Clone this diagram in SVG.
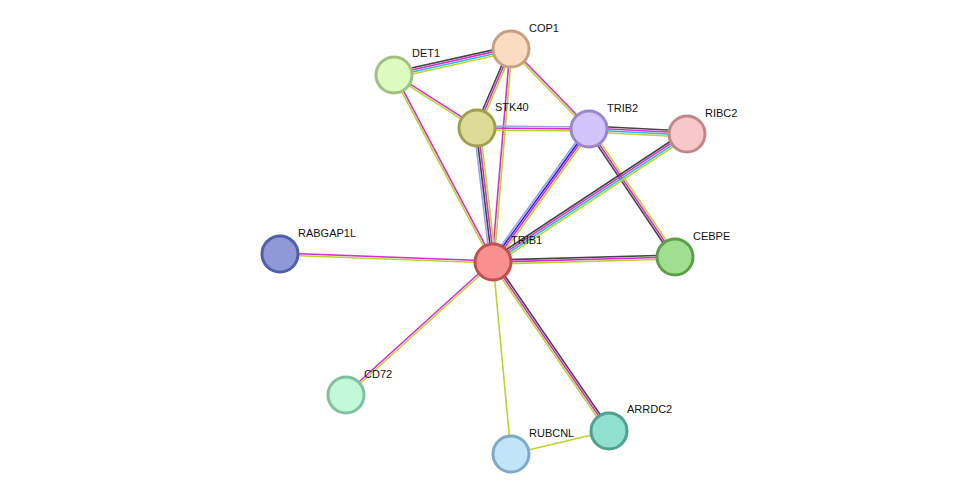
<svg xmlns="http://www.w3.org/2000/svg" width="975" height="500" viewBox="0 0 975 500">
<style>
line{stroke-width:1.6;fill:none}
.k{stroke:#444}.m{stroke:#d62bd6}.c{stroke:#2bb8d8}.y{stroke:#b8d62b}.lb{stroke:#9aa0f0}.b{stroke:#2222e0}
circle{stroke-width:3}
text{font-family:"Liberation Sans",Arial,sans-serif;font-size:11px;fill:#111}
</style>
<rect width="975" height="500" fill="#fff"/>
<g id="edges">
<g><line class="k" x1="394" y1="75" x2="511" y2="49" transform="translate(-0.65,-2.93)"/><line class="m" x1="394" y1="75" x2="511" y2="49" transform="translate(-0.22,-0.98)"/><line class="c" x1="394" y1="75" x2="511" y2="49" transform="translate(0.22,0.98)"/><line class="y" x1="394" y1="75" x2="511" y2="49" transform="translate(0.65,2.93)"/></g>
<g><line class="m" x1="394" y1="75" x2="477" y2="128" transform="translate(0.54,-0.84)"/><line class="y" x1="394" y1="75" x2="477" y2="128" transform="translate(-0.54,0.84)"/></g>
<g><line class="m" x1="394" y1="75" x2="493" y2="262" transform="translate(0.88,-0.47)"/><line class="y" x1="394" y1="75" x2="493" y2="262" transform="translate(-0.88,0.47)"/></g>
<g><line class="k" x1="511" y1="49" x2="477" y2="128" transform="translate(-1.84,-0.79)"/><line class="m" x1="511" y1="49" x2="477" y2="128"/><line class="y" x1="511" y1="49" x2="477" y2="128" transform="translate(1.84,0.79)"/></g>
<g><line class="m" x1="511" y1="49" x2="493" y2="262" transform="translate(-1,-0.08)"/><line class="y" x1="511" y1="49" x2="493" y2="262" transform="translate(1,0.08)"/></g>
<g><line class="m" x1="511" y1="49" x2="589" y2="129" transform="translate(0.72,-0.7)"/><line class="y" x1="511" y1="49" x2="589" y2="129" transform="translate(-0.72,0.7)"/></g>
<g><line class="lb" x1="477" y1="126" x2="589" y2="127"/><line class="m" x1="477" y1="128" x2="589" y2="129"/><line class="y" x1="477" y1="130" x2="589" y2="131"/></g>
<g><line class="lb" x1="477" y1="128" x2="493" y2="262" transform="translate(-2.98,0.36)"/><line class="k" x1="477" y1="128" x2="493" y2="262" transform="translate(-0.99,0.12)"/><line class="m" x1="477" y1="128" x2="493" y2="262" transform="translate(0.99,-0.12)"/><line class="y" x1="477" y1="128" x2="493" y2="262" transform="translate(2.98,-0.36)"/></g>
<g><line class="k" x1="589" y1="129" x2="687" y2="134" transform="translate(0.15,-3)"/><line class="m" x1="589" y1="129" x2="687" y2="134" transform="translate(0.05,-1)"/><line class="c" x1="589" y1="129" x2="687" y2="134" transform="translate(-0.05,1)"/><line class="y" x1="589" y1="129" x2="687" y2="134" transform="translate(-0.15,3)"/></g>
<g><line class="lb" x1="589" y1="129" x2="493" y2="262" transform="translate(-2.43,-1.76)"/><line class="b" x1="589" y1="129" x2="493" y2="262" transform="translate(-0.81,-0.59)"/><line class="m" x1="589" y1="129" x2="493" y2="262" transform="translate(0.81,0.59)"/><line class="y" x1="589" y1="129" x2="493" y2="262" transform="translate(2.43,1.76)"/></g>
<g><line class="k" x1="589" y1="129" x2="675" y2="257" transform="translate(-1.66,1.12)"/><line class="m" x1="589" y1="129" x2="675" y2="257"/><line class="y" x1="589" y1="129" x2="675" y2="257" transform="translate(1.66,-1.12)"/></g>
<g><line class="k" x1="687" y1="134" x2="493" y2="262" transform="translate(-1.65,-2.5)"/><line class="m" x1="687" y1="134" x2="493" y2="262" transform="translate(-0.55,-0.83)"/><line class="c" x1="687" y1="134" x2="493" y2="262" transform="translate(0.55,0.83)"/><line class="y" x1="687" y1="134" x2="493" y2="262" transform="translate(1.65,2.5)"/></g>
<g><line class="k" x1="493" y1="260" x2="675" y2="255"/><line class="m" x1="493" y1="262" x2="675" y2="257"/><line class="y" x1="493" y1="264" x2="675" y2="259"/></g>
<g><line class="m" x1="493" y1="261" x2="280" y2="253"/><line class="y" x1="493" y1="263" x2="280" y2="255"/></g>
<g><line class="m" x1="493" y1="262" x2="346" y2="395" transform="translate(-0.67,-0.74)"/><line class="y" x1="493" y1="262" x2="346" y2="395" transform="translate(0.67,0.74)"/></g>
<g><line class="y" x1="493" y1="262" x2="511" y2="454"/></g>
<g><line class="k" x1="493" y1="262" x2="609" y2="431" transform="translate(1.65,-1.13)"/><line class="m" x1="493" y1="262" x2="609" y2="431"/><line class="y" x1="493" y1="262" x2="609" y2="431" transform="translate(-1.65,1.13)"/></g>
<g><line class="y" x1="511" y1="454" x2="609" y2="431"/></g>
</g>
<g id="DET1"><circle cx="394" cy="75" r="18" fill="#dcfcc0" stroke="#9fc07f"/><text x="412" y="57">DET1</text></g>
<g id="COP1"><circle cx="511" cy="49" r="18" fill="#fcdcc0" stroke="#c4a281"/><text x="529" y="32">COP1</text></g>
<g id="STK40"><circle cx="477" cy="128" r="18" fill="#dcdc96" stroke="#a0a050"/><text x="495" y="111">STK40</text></g>
<g id="TRIB2"><circle cx="589" cy="129" r="18" fill="#d4c4fc" stroke="#9a86cc"/><text x="607" y="112">TRIB2</text></g>
<g id="RIBC2"><circle cx="687" cy="134" r="18" fill="#f8c8c8" stroke="#c08888"/><text x="705" y="117">RIBC2</text></g>
<g id="CEBPE"><circle cx="675" cy="257" r="18" fill="#9fdf8f" stroke="#5c9e4c"/><text x="693" y="240">CEBPE</text></g>
<g id="TRIB1"><circle cx="493" cy="262" r="18" fill="#f89090" stroke="#c05050"/><text x="511" y="244">TRIB1</text></g>
<g id="RABGAP1L"><circle cx="280" cy="254" r="18" fill="#9098d8" stroke="#5060a8"/><text x="298" y="237">RABGAP1L</text></g>
<g id="CD72"><circle cx="346" cy="395" r="18" fill="#c0f8d8" stroke="#80c0a0"/><text x="364" y="378">CD72</text></g>
<g id="RUBCNL"><circle cx="511" cy="454" r="18" fill="#c0e4f8" stroke="#80a8c8"/><text x="529" y="437">RUBCNL</text></g>
<g id="ARRDC2"><circle cx="609" cy="431" r="18" fill="#90e0d0" stroke="#50a090"/><text x="627" y="413">ARRDC2</text></g>
</svg>
